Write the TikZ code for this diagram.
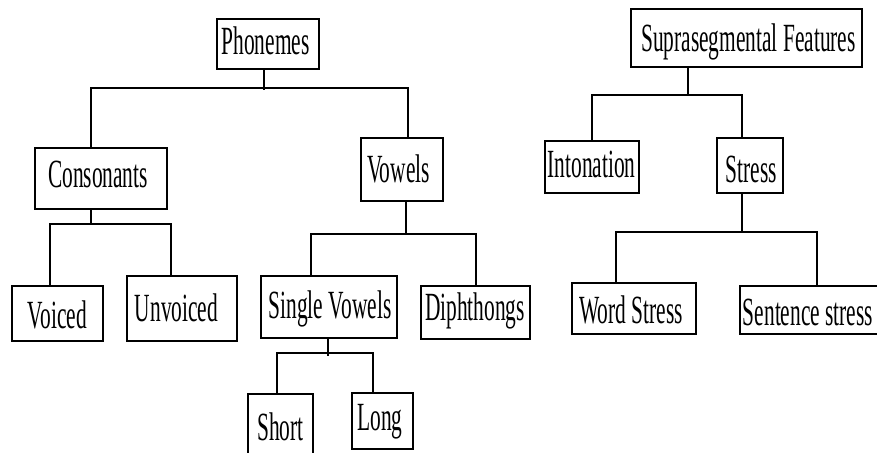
\documentclass[tikz,border=0pt]{standalone}
\usepackage{fontspec}
\newfontfamily\labelfont[FakeStretch=0.535]{Liberation Serif}

\tikzset{
  box/.style={draw, line width=1.6pt, inner sep=0pt, outer sep=0pt, anchor=north west},
  lbl/.style={anchor=base, inner sep=0pt, font=\labelfont\fontsize{40}{40}\selectfont},
  link/.style={line width=1.6pt}
}

% #1 name, #2/#3 top-left corner, #4/#5 bottom-right corner,
% #6 text centre x, #7 text baseline y, #8 text
\newcommand\treebox[8]{%
  \node[box, minimum width={(#4-#2)*1pt}, minimum height={(#5-#3)*1pt}] (#1) at (#2,#3) {};
  \node[lbl] (#1-text) at (#6,#7) {#8};
}

\begin{document}
\begin{tikzpicture}[x=1pt, y=-1pt]
  \useasboundingbox (0,0) rectangle (877,452);
  \fill[white] (0,0) rectangle (877,452);
  \clip (0,0) rectangle (877,452);

  % segmental tree
  \treebox{phon}{217}{19}{319}{69}{265.5}{55}{Phonemes}
  \treebox{cons}{35}{148}{167}{209}{98}{187}{Consonants}
  \treebox{vow}{361}{138}{443}{201}{398.5}{182}{Vowels}
  \treebox{voiced}{12}{286}{103}{341}{57.5}{328}{Voiced}
  \treebox{unvoiced}{127}{276}{237}{341}{176.5}{321}{Unvoiced}
  \treebox{single}{261}{276}{397}{338}{330}{318}{Single Vowels}
  \treebox{diph}{421}{286}{530}{339}{475}{320}{Diphthongs}
  \treebox{short}{248}{394}{313}{480}{280.5}{440}{Short}
  \treebox{long}{352}{393}{413}{449}{380}{430}{Long}

  % suprasegmental tree
  \treebox{supra}{631}{9}{862}{67}{748.5}{52}{Suprasegmental Features}
  \treebox{inton}{545}{141}{639}{193}{591.5}{177}{Intonation}
  \treebox{stress}{717}{138}{783}{193}{751.5}{182}{Stress}
  \treebox{word}{572}{283}{696}{334}{631}{323}{Word Stress}
  \treebox{sent}{740}{286}{905}{334}{808}{325}{Sentence stress}

  % junction points
  \coordinate (pj) at (264,90);  \coordinate (pl) at (91,88);   \coordinate (pr) at (408,88);
  \coordinate (cj) at (91,224);  \coordinate (cl) at (50,224);  \coordinate (cr) at (171,224);
  \coordinate (vj) at (406,234); \coordinate (vl) at (311,234); \coordinate (vr) at (476,234);
  \coordinate (sj) at (328,356); \coordinate (sl) at (277,353); \coordinate (sr) at (373,353);
  \coordinate (uj) at (688,95);  \coordinate (ul) at (592,95);  \coordinate (ur) at (742,95);
  \coordinate (tj) at (742,232); \coordinate (tl) at (616,232); \coordinate (tr) at (817,232);

  % connectors
  \draw[link] (phon.south -| pj) -- (pj);
  \draw[link] (cons.north -| pl) |- (pr) -- (vow.north -| pr);

  \draw[link] (cons.south -| cj) -- (cj);
  \draw[link] (voiced.north -| cl) |- (cr) -- (unvoiced.north -| cr);

  \draw[link] (vow.south -| vj) -- (vj);
  \draw[link] (single.north -| vl) |- (vr) -- (diph.north -| vr);

  \draw[link] (single.south -| sj) -- (sj);
  \draw[link] (short.north -| sl) |- (sr) -- (long.north -| sr);

  \draw[link] (supra.south -| uj) -- (uj);
  \draw[link] (inton.north -| ul) |- (ur) -- (stress.north -| ur);

  \draw[link] (stress.south -| tj) -- (tj);
  \draw[link] (word.north -| tl) |- (tr) -- (sent.north -| tr);
\end{tikzpicture}
\end{document}
